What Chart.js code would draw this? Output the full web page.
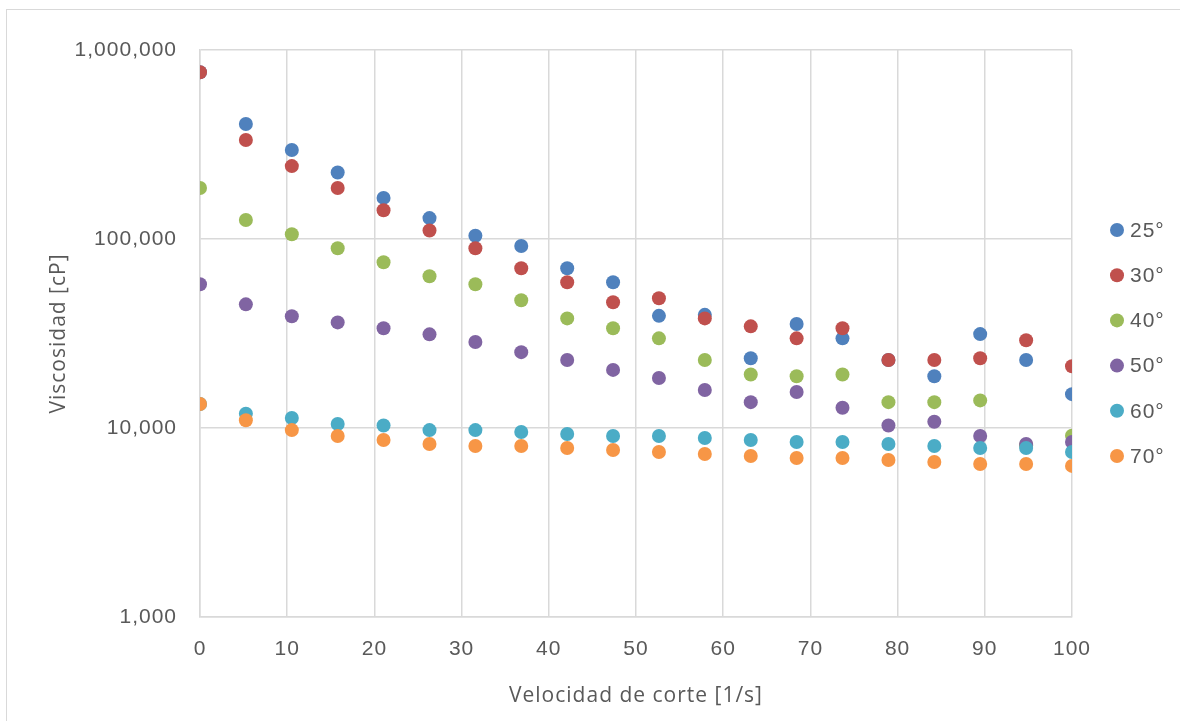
<!DOCTYPE html>
<html>
<head>
<meta charset="utf-8">
<script src="https://cdn.jsdelivr.net/npm/chart.js@4/dist/chart.umd.min.js"></script>
<style>
  html, body { margin: 0; padding: 0; background: #fff; overflow: hidden; }
  #wrap { position: relative; width: 1180px; height: 721px; }
  #frame { position: absolute; left: 6px; top: 9px; width: 1300px; height: 900px;
           border-left: 1px solid #d9d9d9; border-top: 1px solid #d9d9d9; box-sizing: border-box; }
  canvas { position: absolute; left: 0; top: 0; }
</style>
</head>
<body>
<div id="wrap">
  <div id="frame"></div>
  <canvas id="c" width="1180" height="721"></canvas>
</div>
<script>
// Shear rate [1/s]
const shearRate = [0, 5.26, 10.53, 15.79, 21.05, 26.32, 31.58, 36.84, 42.11, 47.37,
                   52.63, 57.89, 63.16, 68.42, 73.68, 78.95, 84.21, 89.47, 94.74, 100];

// Viscosity [cP] per temperature
const visc25 = [762000, 406000, 296000, 225000, 165000, 129000, 104000, 91900, 70000, 59000,
                39200, 39700, 23400, 35500, 29800, 22900, 18800, 31400, 22900, 15100];
const visc30 = [762000, 334000, 243000, 186000, 142000, 111000, 89300, 70000, 59000, 46300,
                48600, 38000, 34500, 29800, 33700, 22900, 22900, 23400, 29100, 21200];
const visc40 = [186000, 126000, 106000, 89300, 75300, 63500, 57600, 47400, 38000, 33700,
                29800, 22900, 19200, 18800, 19200, 13700, 13700, 14000, 8100, 9100];
const visc50 = [57600, 45100, 39000, 36200, 33700, 31300, 28500, 25200, 22900, 20300,
                18400, 15900, 13700, 15500, 12800, 10300, 10800, 9070, 8230, 8430];
const visc60 = [13400, 11900, 11300, 10500, 10300, 9750, 9750, 9520, 9290, 9070,
                9070, 8850, 8640, 8430, 8430, 8230, 8030, 7840, 7840, 7470];
const visc70 = [13400, 11000, 9750, 9070, 8640, 8230, 8030, 8030, 7840, 7650,
                7470, 7290, 7110, 6940, 6940, 6770, 6610, 6450, 6450, 6300];

const seriesLabels = ['25°', '30°', '40°', '50°', '60°', '70°'];
const seriesValues = [visc25, visc30, visc40, visc50, visc60, visc70];
const seriesColors = ['#4F81BD', '#C0504D', '#9BBB59', '#8064A2', '#4BACC6', '#F79646'];

const yTickValues = [1000, 10000, 100000, 1000000];
const xTitle = 'Velocidad de corte [1/s]';
const yTitle = 'Viscosidad [cP]';

const textColor = '#595959';
const gridColor = '#d9d9d9';
const tickFont = { family: '"Liberation Sans", Arial, sans-serif', size: 21 };
const titleFont = { family: '"Open Sans", "Liberation Sans", sans-serif', size: 21 };

const datasets = seriesValues.map((vals, i) => ({
  label: seriesLabels[i],
  data: vals.map((v, j) => ({ x: shearRate[j], y: v })),
  backgroundColor: seriesColors[i],
  borderColor: seriesColors[i],
  borderWidth: 0,
  pointRadius: 7,
  pointHoverRadius: 7,
  showLine: false,
  // later series are painted over earlier ones
  order: seriesValues.length - i
}));

// Slightly open letter spacing for all chart text
const textSpacing = {
  id: 'textSpacing',
  beforeLayout(chart) { chart.ctx.letterSpacing = '1px'; },
  beforeDraw(chart) { chart.ctx.letterSpacing = '1px'; }
};

// Legend stacked at the right of the plot
const sideLegend = {
  id: 'sideLegend',
  afterDraw(chart) {
    const ctx = chart.ctx;
    ctx.save();
    ctx.font = `${tickFont.size}px ${tickFont.family}`;
    ctx.textAlign = 'left';
    ctx.textBaseline = 'middle';
    chart.data.datasets.forEach((ds, i) => {
      const y = 230 + i * 45.2;
      ctx.beginPath();
      ctx.arc(1117, y, 7, 0, Math.PI * 2);
      ctx.fillStyle = ds.backgroundColor;
      ctx.fill();
      ctx.fillStyle = textColor;
      ctx.fillText(ds.label, 1130, y + 1);
    });
    ctx.restore();
  }
};

new Chart(document.getElementById('c'), {
  type: 'scatter',
  data: { datasets },
  plugins: [textSpacing, sideLegend],
  options: {
    responsive: false,
    animation: false,
    devicePixelRatio: 1,
    layout: { padding: { left: 0, top: 50, right: 108, bottom: 0 } },
    plugins: { legend: { display: false }, tooltip: { enabled: false } },
    scales: {
      x: {
        type: 'linear',
        min: 0,
        max: 100,
        ticks: { stepSize: 10, color: textColor, font: tickFont, padding: 20, maxRotation: 0 },
        grid: { color: gridColor, lineWidth: 1.5, drawTicks: false },
        border: { color: gridColor, width: 1.5 },
        title: { display: true, text: xTitle, color: textColor, font: titleFont,
                 padding: { top: 0, bottom: 12 } },
        afterFit(scale) { scale.height = 104; }
      },
      y: {
        type: 'logarithmic',
        min: 1000,
        max: 1000000,
        afterBuildTicks(scale) { scale.ticks = yTickValues.map(v => ({ value: v })); },
        ticks: {
          color: textColor, font: tickFont, padding: 23,
          callback: (v) => Number(v).toLocaleString('en-US')
        },
        grid: { color: gridColor, lineWidth: 1.5, drawTicks: false },
        border: { color: gridColor, width: 1.5 },
        title: { display: true, text: yTitle, color: textColor, font: titleFont,
                 padding: { top: 46, bottom: 0 } },
        afterFit(scale) { scale.width = 200; }
      }
    }
  }
});
</script>
</body>
</html>
